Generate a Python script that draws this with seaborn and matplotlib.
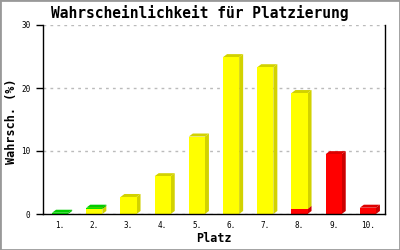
import matplotlib
matplotlib.use("Agg")
import matplotlib.pyplot as plt
from matplotlib.patches import Polygon, Rectangle
import seaborn as sns
import pandas as pd

places = ["1.", "2.", "3.", "4.", "5.", "6.", "7.", "8.", "9.", "10."]
red_vals = [0, 0, 0, 0, 0, 0, 0, 0.8, 9.5, 1.0]
yellow_vals = [0, 0.8, 2.7, 6.0, 12.3, 24.9, 23.3, 18.4, 0, 0]
green_vals = [0.2, 0.2, 0, 0, 0, 0, 0, 0, 0, 0]
y_ticks = [0, 10, 20, 30]

sns.set_style("white")
plt.rcParams["font.family"] = ["DejaVu Sans Mono"]
plt.rcParams["text.color"] = "black"
plt.rcParams["axes.labelcolor"] = "black"
plt.rcParams["xtick.color"] = "black"
plt.rcParams["ytick.color"] = "black"

fig = plt.figure(figsize=(4, 2.5), dpi=100)
ax = fig.add_axes([43 / 400, 36 / 250, 342 / 400, 189 / 250])

df = pd.DataFrame({"Platz": places, "red": red_vals, "yellow": yellow_vals, "green": green_vals})

segments = [
    ("red", "#ff0000", "#cc0000", "#dd0000"),
    ("yellow", "#ffff00", "#d2d200", "#d2d200"),
    ("green", "#00e600", "#00b400", "#00cc00"),
]
dx = 4 / 34.2
dy = 3 / 6.3
bottom = [0.0] * len(places)
for col, front, side, top in segments:
    n0 = len(ax.patches)
    sns.barplot(data=df, x="Platz", y=col, order=places, color=front, saturation=1,
                width=0.47, errorbar=None, linewidth=0, bottom=bottom, ax=ax)
    new = ax.patches[n0:]
    for p in new:
        h = p.get_height()
        if h <= 0:
            continue
        x0, w, y0 = p.get_x(), p.get_width(), p.get_y()
        ax.add_patch(Polygon([(x0 + w, y0), (x0 + w + dx, y0 + dy), (x0 + w + dx, y0 + h + dy), (x0 + w, y0 + h)],
                             closed=True, facecolor=side, edgecolor="none", zorder=p.get_zorder()))
        ax.add_patch(Polygon([(x0, y0 + h), (x0 + dx, y0 + h + dy), (x0 + w + dx, y0 + h + dy), (x0 + w, y0 + h)],
                             closed=True, facecolor=top, edgecolor="none", zorder=p.get_zorder()))
        p.set_zorder(p.get_zorder() + 0.01)
    bottom = [b + v for b, v in zip(bottom, df[col])]

ax.set_xlim(-0.5, 9.5)
ax.set_ylim(0, 30)
ax.set_yticks(y_ticks)
ax.set_yticklabels([str(t) for t in y_ticks])
ax.tick_params(axis="y", length=5, width=1, color="black", labelcolor="black", pad=4, labelsize=5.5, left=True)
ax.tick_params(axis="x", length=0, pad=5, labelsize=5.5, labelcolor="black")
ax.yaxis.grid(True, color="#bbbbbb", linestyle=(0, (2, 3)), linewidth=1)
ax.set_axisbelow(True)
for s in ["left", "bottom", "right"]:
    ax.spines[s].set_visible(True)
    ax.spines[s].set_color("black")
    ax.spines[s].set_linewidth(1)
ax.spines["top"].set_visible(False)

ax.set_xlabel("Platz", fontsize=8.5, fontweight="bold", color="black")
ax.xaxis.set_label_coords(0.5, -(239 - 214) / 189)
ax.xaxis.label.set_va("center")
ax.set_ylabel("Wahrsch. (%)", fontsize=8.5, fontweight="bold", color="black")
ax.yaxis.set_label_coords(-(43 - 12) / 342, (214 - 121) / 189)
ax.yaxis.label.set_va("center")
fig.text(0.5, 1 - 13 / 250, "Wahrscheinlichkeit für Platzierung", ha="center", va="center",
         fontsize=10.5, fontweight="bold", color="black")

fig.patches.append(Rectangle((0, 0), 1, 1, transform=fig.transFigure, fill=False,
                             edgecolor="#999999", linewidth=2))

fig.savefig("out.png", dpi=100)
